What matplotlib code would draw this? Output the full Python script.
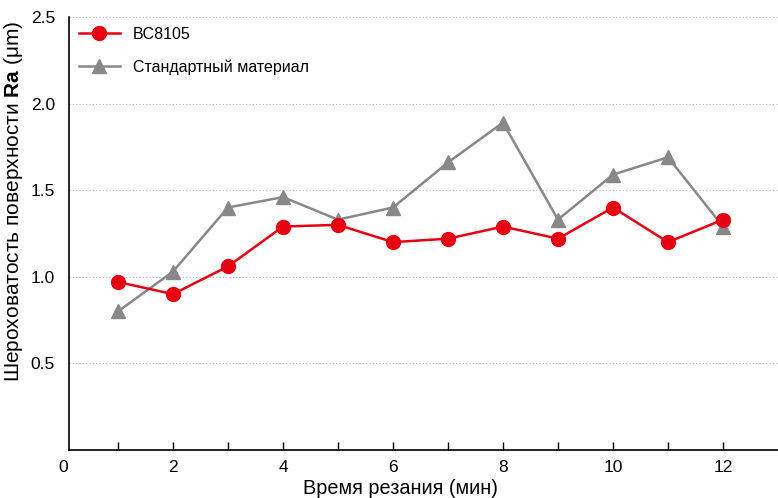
import numpy as np
import matplotlib
matplotlib.use('Agg')
import matplotlib.pyplot as plt

plt.rcParams['font.family'] = ['Liberation Sans', 'DejaVu Sans']
plt.rcParams['mathtext.fontset'] = 'custom'
plt.rcParams['mathtext.rm'] = 'Liberation Sans'
plt.rcParams['mathtext.bf'] = 'Liberation Sans:bold'

# data
minutes = [1, 2, 3, 4, 5, 6, 7, 8, 9, 10, 11, 12]
bc8105 = [0.97, 0.90, 1.06, 1.29, 1.30, 1.20, 1.22, 1.29, 1.22, 1.40, 1.20, 1.33]
standard = [0.80, 1.03, 1.40, 1.46, 1.33, 1.40, 1.66, 1.89, 1.33, 1.59, 1.69, 1.29]
y_ticks = [0.5, 1.0, 1.5, 2.0, 2.5]
x_labels = [2, 4, 6, 8, 10, 12]

red = '#E60012'
grey = '#888888'

fig = plt.figure(figsize=(7.78, 4.98), dpi=100)
ax = fig.add_axes([0.0887, 0.0964, 0.9113, 0.8695])

ax.plot(minutes, bc8105, color=red, lw=1.8, marker='o', ms=10, label='BC8105', zorder=4)
ax.plot(minutes, standard, color=grey, lw=1.8, marker='^', ms=10, label='Стандартный материал', zorder=3)

ax.set_xlim(0.11, 13.0)
ax.set_ylim(0, 2.5)

# grid lines
for y in y_ticks:
    ax.axhline(y, color='#b4b4b4', lw=0.8, ls=(0, (1, 2)), zorder=1)

ax.set_yticks(y_ticks)
ax.set_yticklabels(['%.1f' % v for v in y_ticks])
ax.tick_params(axis='y', length=0, pad=10, labelsize=12.5)

ax.set_xticks(x_labels)
ax.set_xticks([1, 3, 5, 7, 9, 11], minor=True)
ax.tick_params(axis='x', which='both', direction='in', length=6, width=1, pad=7, labelsize=12.5)
ax.annotate('0', xy=(0, 0), xycoords='data', xytext=(0, -7), textcoords='offset points',
            ha='center', va='top', fontsize=12.5, annotation_clip=False)

for s in ['top', 'right']:
    ax.spines[s].set_visible(False)
ax.spines['left'].set_linewidth(1.2)
ax.spines['bottom'].set_linewidth(1.2)

ax.set_xlabel('Время резания (мин)', fontsize=14.3)
ax.xaxis.set_label_coords(0.467, -0.066)
ax.set_ylabel(r'Шероховатость поверхности $\mathbf{Ra}$ (μm)', fontsize=15)
ax.yaxis.set_label_coords(-0.062, 0.575)

ax.legend(loc='upper left', frameon=False, fontsize=11.5, labelspacing=1.1,
          handlelength=2.6, bbox_to_anchor=(0.0, 1.0), borderaxespad=0.2)

fig.savefig('out.png', dpi=100)
